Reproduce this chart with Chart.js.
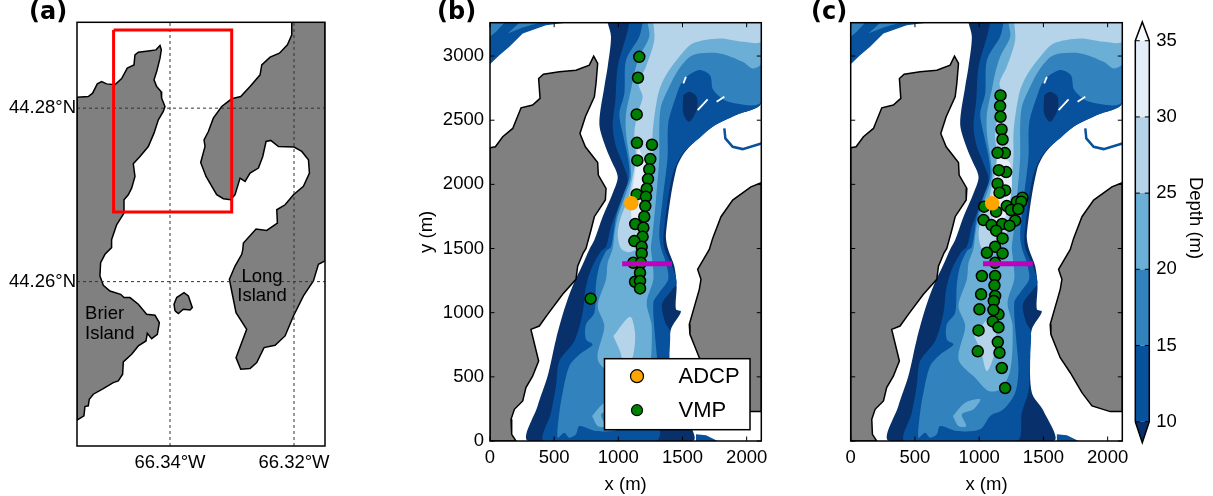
<!DOCTYPE html>
<html>
<head>
<meta charset="utf-8">
<title>Depth maps</title>
<script src="https://cdn.jsdelivr.net/npm/chart.js@4"></script>
<style>
html,body{margin:0;padding:0;background:#fff;width:1213px;height:496px;overflow:hidden}
canvas{position:absolute;top:0}
</style>
</head>
<body>
<canvas id="panelA"></canvas>
<canvas id="panelB"></canvas>
<canvas id="panelC"></canvas>
<canvas id="colorbar"></canvas>
<script>
/* MAP DATA (lon, lat) */

const mapLonTicks = [-66.34,-66.32];
const mapLatTicks = [44.26,44.28];

const brierCoast = [[-66.355,44.28127],[-66.35318,44.28134],[-66.35248,44.28173],[-66.35173,44.2828],[-66.35103,44.28307],[-66.35022,44.2828],[-66.34888,44.28269],[-66.3478,44.28342],[-66.34689,44.28461],[-66.34581,44.28499],[-66.34565,44.28614],[-66.34511,44.28645],[-66.3435,44.2866],[-66.34226,44.28672],[-66.34161,44.28722],[-66.3414,44.28672],[-66.34161,44.28576],[-66.34215,44.28422],[-66.34258,44.28326],[-66.34215,44.2825],[-66.34145,44.28192],[-66.34135,44.28115],[-66.34081,44.28019],[-66.34108,44.27962],[-66.34188,44.27866],[-66.34258,44.27712],[-66.3435,44.27558],[-66.34484,44.27443],[-66.34592,44.27359],[-66.34565,44.27213],[-66.34619,44.27078],[-66.34673,44.27002],[-66.34742,44.26944],[-66.34742,44.2679],[-66.34861,44.26656],[-66.34942,44.26483],[-66.34942,44.26392],[-66.35049,44.26315],[-66.35119,44.26219],[-66.3513,44.26065],[-66.35076,44.25958],[-66.34968,44.25892],[-66.34796,44.25854],[-66.34742,44.25816],[-66.34646,44.25816],[-66.34511,44.25739],[-66.34377,44.25624],[-66.34242,44.25612],[-66.34172,44.25528],[-66.34204,44.25393],[-66.34296,44.25343],[-66.34366,44.25405],[-66.34387,44.25316],[-66.34511,44.25259],[-66.34619,44.25163],[-66.34753,44.25075],[-66.34764,44.24932],[-66.34834,44.24856],[-66.34915,44.24836],[-66.35076,44.24767],[-66.35237,44.24702],[-66.35302,44.24644],[-66.35318,44.24568],[-66.35372,44.2456],[-66.35388,44.24452],[-66.355,44.24403]];

const longCoast = [[-66.32036,44.2899],[-66.32036,44.28845],[-66.32106,44.2873],[-66.32235,44.28634],[-66.32386,44.28588],[-66.3252,44.28499],[-66.32547,44.28384],[-66.32709,44.2825],[-66.32859,44.28134],[-66.33005,44.28108],[-66.33166,44.28019],[-66.33301,44.27885],[-66.33381,44.27731],[-66.33451,44.27635],[-66.33435,44.27558],[-66.33505,44.27374],[-66.33419,44.27213],[-66.33247,44.27002],[-66.33139,44.26956],[-66.33021,44.26944],[-66.32951,44.27002],[-66.3287,44.27194],[-66.32789,44.27155],[-66.32709,44.27251],[-66.32574,44.27309],[-66.32504,44.27443],[-66.32451,44.27616],[-66.32375,44.27628],[-66.32251,44.27558],[-66.31999,44.27551],[-66.31875,44.27501],[-66.31767,44.27405],[-66.31751,44.27251],[-66.31848,44.27098],[-66.32009,44.27002],[-66.32144,44.26886],[-66.32278,44.26829],[-66.32268,44.26675],[-66.3244,44.26591],[-66.32612,44.26606],[-66.32816,44.26445],[-66.32827,44.26365],[-66.32843,44.26315],[-66.32951,44.2618],[-66.33042,44.26027],[-66.33005,44.25892],[-66.32935,44.25643],[-66.32763,44.25451],[-66.32843,44.25297],[-66.32935,44.25124],[-66.32859,44.2499],[-66.32709,44.24998],[-66.32601,44.25067],[-66.32483,44.2524],[-66.32305,44.25267],[-66.32144,44.25374],[-66.32009,44.25604],[-66.31848,44.25835],[-66.31687,44.26008],[-66.31606,44.262],[-66.315,44.26238],[-66.315,44.2899]];

const smallIsland = [[-66.33919,44.25662],[-66.33935,44.25739],[-66.33892,44.25816],[-66.33774,44.25873],[-66.33704,44.25835],[-66.3364,44.257],[-66.33677,44.25674],[-66.33785,44.25681],[-66.33865,44.25631]];

const studyBox = [[-66.3491,44.289],[-66.33005,44.289],[-66.33005,44.26804],[-66.3491,44.26804]];

const placeNames = ["Brier","Island","Long","Island"];
const placeLons = [-66.3537,-66.3537,-66.32516,-66.32516];
const placeLats = [44.25627,44.25397,44.26055,44.25835];
const placeAligns = ["left","left","center","center"];

/* BATHYMETRY DATA (x, y in m) */

const xTicks = [0,500,1000,1500,2000];
const yTicks = [0,500,1000,1500,2000,2500,3000];

const westLand = [[0,2285],[42,2293],[99,2371],[177,2436],[242,2597],[332,2618],[390,2670],[379,2825],[416,2859],[540,2877],[670,2890],[774,2929],[808,3000],[839,2942],[826,2787],[813,2683],[743,2527],[701,2397],[743,2293],[839,2171],[844,2072],[904,1968],[899,1878],[813,1748],[787,1644],[748,1501],[727,1467],[683,1363],[670,1260],[566,1143],[449,987],[384,896],[319,870],[379,623],[332,506],[280,416],[255,312],[190,247],[164,169],[169,52],[203,0],[0,0]];

const eastLand = [[2114,2013],[2033,1981],[1891,1878],[1800,1748],[1735,1579],[1709,1493],[1618,1337],[1644,1260],[1631,1182],[1553,909],[1558,831],[1631,649],[1709,532],[1800,377],[1878,273],[2020,229],[2114,229]];

const depthUnder10 = [[917,3260],[943,3150],[917,2916],[891,2761],[852,2475],[891,2319],[943,2189],[995,2059],[956,1930],[878,1748],[813,1566],[774,1493],[722,1376],[644,1208],[579,1026],[514,792],[449,506],[371,273],[301,0],[1579,0],[1501,234],[1410,377],[1397,662],[1410,870],[1488,1008],[1449,1026],[1454,1208],[1436,1363],[1384,1506],[1371,1618],[1449,2111],[1532,2267],[1735,2449],[1917,2540],[2114,2636],[2114,3260]];

const depthOver10 = [[1086,3260],[1060,3150],[995,2916],[977,2657],[956,2449],[982,2293],[1034,2163],[1073,2033],[1021,1878],[943,1670],[904,1514],[865,1480],[787,1337],[743,1182],[722,1000],[657,779],[540,623],[514,429],[475,221],[423,0],[1293,0],[1332,221],[1384,390],[1397,662],[1402,857],[1366,922],[1340,1065],[1410,1169],[1454,1234],[1418,1363],[1358,1506],[1353,1618],[1418,2059],[1501,2241],[1644,2371],[1735,2449],[1917,2540],[2114,2636],[2114,3260]];

const depthOver15 = [[1189,3260],[1163,3150],[1060,2968],[1047,2709],[1008,2553],[1034,2397],[1073,2215],[1086,2059],[1034,1904],[982,1748],[943,1514],[904,1480],[852,1363],[826,1221],[813,1000],[748,909],[748,792],[800,753],[696,675],[618,584],[566,377],[540,221],[527,26],[579,65],[618,26],[670,52],[696,117],[826,78],[1008,91],[1086,195],[1189,247],[1280,377],[1306,558],[1293,740],[1273,1078],[1319,1156],[1389,1260],[1371,1389],[1332,1506],[1319,1618],[1345,1878],[1384,2215],[1389,2475],[1449,2683],[1506,2812],[1623,2890],[1714,2851],[1740,2735],[1857,2644],[2114,2644],[2114,3260]];

const depthOver20 = [[1228,3260],[1241,3150],[1163,2994],[1124,2864],[1098,2735],[1060,2553],[1060,2397],[1086,2215],[1099,2059],[1060,1930],[995,1748],[970,1618],[956,1501],[917,1389],[904,1260],[839,1052],[891,896],[839,636],[969,493],[1073,390],[1163,403],[1241,545],[1260,896],[1221,1078],[1273,1260],[1267,1389],[1254,1506],[1267,1618],[1293,1878],[1319,2215],[1319,2449],[1332,2605],[1397,2761],[1475,2903],[1579,3007],[1787,3020],[1969,2955],[2046,2903],[2114,2942],[2114,3260]];

const depthOver25 = [[1273,3260],[1280,3124],[1215,2916],[1158,2787],[1189,2683],[1150,2553],[1124,2397],[1137,2215],[1111,2059],[1073,1878],[1021,1748],[995,1618],[1021,1501],[1086,1472],[1163,1514],[1215,1618],[1241,1878],[1267,2215],[1267,2397],[1288,2579],[1319,2735],[1371,2851],[1475,2994],[1579,3098],[1787,3137],[1969,3111],[2114,3111],[2114,3260]];

const depthOver30 = [[1158,2293],[1189,2215],[1241,2163],[1254,1981],[1215,1774],[1163,1670],[1111,1696],[1099,1878],[1124,2059],[1143,2215]];

const deepPatchSouth = [[961,818],[1091,969],[1130,844],[1117,675],[1060,545],[1013,700]];
const midPatchSouth = [[795,195],[891,299],[1008,325],[956,247],[865,208],[899,117],[839,117]];
const shoalHole = [[1506,2696],[1553,2722],[1610,2683],[1610,2579],[1553,2488],[1506,2553]];

const bayNorthWest = [[0,2937],[73,3007],[151,3072],[255,3176],[436,3241],[592,3260],[0,3260]];
const bayCornerA = [[0,3150],[47,3189],[112,3260],[0,3260]];
const bayCornerB = [[138,3176],[255,3223],[384,3260],[229,3260]];
const bayEastRim = [[1826,2436],[1834,2358],[1891,2293],[1969,2275],[2114,2319]];
const baySouthEast = [[1605,52],[1683,44],[1774,0],[1605,0]];

const specks = [
[[1618,2579],[1696,2662]],
[[1766,2644],[1826,2683]],
[[1506,2787],[1527,2838]]
];

const transect = [[1030,1382],[1418,1382]];

const adcpPoint = [[1101,1852]];

const vmpCastsB = [[1163,2994],[1153,2831],[1143,2545],[1145,2324],[1262,2309],[1148,2187],[1249,2197],[1241,2117],[1231,2041],[1221,1966],[1143,1922],[1215,1904],[1210,1831],[1202,1748],[1132,1691],[1195,1662],[1189,1592],[1125,1558],[1182,1514],[1182,1462],[1117,1389],[1176,1389],[1169,1311],[1130,1241],[1169,1247],[1169,1189],[784,1109]];

const vmpCastsC = [[1166,2693],[1163,2610],[1166,2527],[1174,2428],[1182,2350],[1200,2244],[1143,2246],[1210,2096],[1153,2111],[1202,1953],[1143,2005],[1158,1935],[1337,1896],[1293,1865],[1327,1865],[1039,1826],[1215,1831],[1247,1800],[1304,1808],[1132,1787],[1034,1722],[1280,1717],[1096,1683],[1179,1691],[1236,1678],[1132,1639],[1182,1579],[1124,1514],[1060,1467],[1182,1462],[1124,1389],[1021,1286],[1124,1286],[1119,1213],[1015,1143],[1124,1130],[1114,1091],[1002,1026],[1150,987],[1111,1021],[1106,932],[1150,886],[995,862],[1145,771],[989,699],[1158,688],[1176,569],[1202,413]];

const legendNames = ["ADCP","VMP"];

/* COLOURBAR DATA */

const depthLevels = [10,15,20,25,30,35];
const depthLow = 8.62;
const depthHigh = 36.23;

/* COLOURS */

const navy = "#08306b";
const blue10 = "#08519c";
const blue15 = "#3182bd";
const blue20 = "#6baed6";
const blue25 = "#b5d3e9";
const blue30 = "#e3eef9";
const land = "#808080";
const levelColours = [blue10,blue15,blue20,blue25,blue30];

Chart.defaults.font.family = "'Liberation Sans', Arial, sans-serif";
Chart.defaults.font.size = 18.5;
Chart.defaults.color = "#000";
Chart.defaults.animation = false;

/* HELPERS */

function pts(list){
return list.map(p=>({x:p[0],y:p[1]}));
}

function closed(list){
return pts(list.concat([list[0]]));
}

function shape(list,colour,edge,width){
return {
data:closed(list),
showLine:true,
pointRadius:0,
fill:"shape",
backgroundColor:colour,
borderColor:edge||colour,
borderWidth:edge?(width||1.5):0,
borderJoinStyle:"miter"
};
}

/* depth contours are smooth in the original, coast lines are not */
function contour(list,colour){
return Object.assign(shape(list,colour),{tension:0.3});
}

function path(data,colour,width,dash){
return {
data:data,
showLine:true,
pointRadius:0,
fill:false,
borderColor:colour,
borderWidth:width,
borderDash:dash||[],
borderCapStyle:"butt",
borderJoinStyle:"miter"
};
}

function dots(list,colour,edge,radius){
return {
data:pts(list),
showLine:false,
pointRadius:radius,
pointBackgroundColor:colour,
pointBorderColor:edge,
pointBorderWidth:1.5
};
}

/* first dataset is drawn last in Chart.js, so number them by paint order */
function painted(list){
return list.map((d,i)=>Object.assign(d,{order:list.length-i}));
}

function fixedTicks(values){
return s=>{ s.ticks = values.map(v=>({value:v})); };
}

/* PLUGINS */

const frame = {
id:"frame",
afterDatasetsDraw(chart){
const a = chart.chartArea;
const c = chart.ctx;
c.save();
c.strokeStyle = "#000";
c.lineWidth = 1.5;
c.strokeRect(a.left,a.top,a.width,a.height);
c.restore();
}
};

const innerTicks = {
id:"innerTicks",
afterDatasetsDraw(chart){
const a = chart.chartArea;
const c = chart.ctx;
const len = 4.5;
c.save();
c.strokeStyle = "#000";
c.lineWidth = 1;
c.beginPath();
if(chart.scales.x.options.display){
chart.scales.x.ticks.forEach(t=>{
const px = chart.scales.x.getPixelForValue(t.value);
c.moveTo(px,a.bottom); c.lineTo(px,a.bottom-len);
c.moveTo(px,a.top); c.lineTo(px,a.top+len);
});
}
chart.scales.y.ticks.forEach(t=>{
const py = chart.scales.y.getPixelForValue(t.value);
c.moveTo(a.left,py); c.lineTo(a.left+len,py);
c.moveTo(a.right,py); c.lineTo(a.right-len,py);
});
c.stroke();
c.restore();
}
};

function panelLetter(text,x){
return {
id:"letter",
afterDraw(chart){
const c = chart.ctx;
c.save();
c.font = "bold 24px 'DejaVu Sans'";
c.fillStyle = "#000";
c.textBaseline = "alphabetic";
c.fillText(text,x,19);
c.restore();
}
};
}

const placeLabels = {
id:"placeLabels",
afterDatasetsDraw(chart){
const c = chart.ctx;
c.save();
c.fillStyle = "#000";
c.font = "18.5px 'Liberation Sans'";
c.textBaseline = "middle";
placeNames.forEach((name,i)=>{
c.textAlign = placeAligns[i];
c.fillText(name,chart.scales.x.getPixelForValue(placeLons[i]),chart.scales.y.getPixelForValue(placeLats[i]));
});
c.restore();
}
};

const boxLegend = {
id:"boxLegend",
afterDatasetsDraw(chart){
const a = chart.chartArea;
const c = chart.ctx;
const left = a.left+114.5, top = a.top+336, w = 145.5, h = 71;
const markerX = left+32.5;
const rows = [top+17.5,top+51.5];
const fills = ["#ffa500","#008000"];
const radius = [6.5,5.5];
c.save();
c.fillStyle = "#fff";
c.strokeStyle = "#000";
c.lineWidth = 1.5;
c.fillRect(left,top,w,h);
c.strokeRect(left,top,w,h);
legendNames.forEach((name,i)=>{
c.beginPath();
c.arc(markerX,rows[i],radius[i],0,Math.PI*2);
c.fillStyle = fills[i];
c.fill();
c.lineWidth = 1.2;
c.stroke();
c.fillStyle = "#000";
c.font = "22px 'Liberation Sans'";
c.textBaseline = "middle";
c.fillText(name,left+74,rows[i]+1);
});
c.restore();
}
};

const depthLabel = {
id:"depthLabel",
afterDraw(chart){
const c = chart.ctx;
c.save();
c.translate(1195-chart.canvas.offsetLeft,218);
c.rotate(Math.PI/2);
c.font = "18.5px 'Liberation Sans'";
c.fillStyle = "#000";
c.textAlign = "center";
c.textBaseline = "middle";
c.fillText("Depth (m)",0,0);
c.restore();
}
};

/* CHART SETUP */

function place(id,left,width){
const el = document.getElementById(id);
el.style.left = left+"px";
el.width = width;
el.height = 496;
return el;
}

/* PANEL A */

const graticule = [];
mapLonTicks.forEach(v=>graticule.push(path([{x:v,y:44.24105},{x:v,y:44.2899}],"#333",1,[3,3])));
mapLatTicks.forEach(v=>graticule.push(path([{x:-66.355,y:v},{x:-66.315,y:v}],"#333",1,[3,3])));

new Chart(place("panelA",0,345),{
type:"scatter",
data:{datasets:painted([
shape(brierCoast,land,"#000"),
shape(longCoast,land,"#000"),
shape(smallIsland,land,"#000"),
...graticule,
shape(studyBox,"transparent","#ff0000",3)
])},
options:{
responsive:false,
events:[],
layout:{padding:{top:22.3,right:20}},
plugins:{legend:{display:false},tooltip:{enabled:false}},
scales:{
x:{
min:-66.355,max:-66.315,
grid:{display:false,drawTicks:false},
border:{display:false},
afterBuildTicks:fixedTicks(mapLonTicks),
afterFit:s=>{s.height=50;},
ticks:{padding:6,maxRotation:0,autoSkip:false,callback:v=>Math.abs(v).toFixed(2)+"°W"}
},
y:{
min:44.24105,max:44.2899,
grid:{display:false,drawTicks:false},
border:{display:false},
afterBuildTicks:fixedTicks(mapLatTicks),
afterFit:s=>{s.width=77;},
ticks:{padding:1,autoSkip:false,callback:v=>v.toFixed(2)+"°N"}
}
}
},
plugins:[frame,placeLabels,panelLetter("(a)",29)]
});

/* PANELS B AND C */

function bathymetry(casts){
return painted([
contour(depthUnder10,navy),
shape(bayNorthWest,blue10),
shape(bayCornerA,blue15),
shape(bayCornerB,blue15),
shape(baySouthEast,blue10),
path(pts(bayEastRim),blue10,2.5),
contour(depthOver10,blue10),
contour(shoalHole,navy),
contour(depthOver15,blue15),
contour(depthOver20,blue20),
contour(midPatchSouth,blue20),
contour(depthOver25,blue25),
contour(deepPatchSouth,blue25),
contour(depthOver30,blue30),
...specks.map(s=>path(pts(s),"#fff",1.8)),
shape(westLand,land,"#000"),
shape(eastLand,land,"#000"),
dots(casts,"#008000","#000",5.5),
dots(adcpPoint,"#ffa500","#ffa500",6.5),
path(pts(transect),"#bf00bf",5)
]);
}

function depthScales(yWidth,showY){
return {
x:{
min:0,max:2114,
grid:{display:false,drawTicks:false},
border:{display:false},
afterBuildTicks:fixedTicks(xTicks),
afterFit:s=>{s.height=55;},
ticks:{padding:6,maxRotation:0,autoSkip:false,callback:v=>String(v)},
title:{display:true,text:"x (m)",padding:{top:0,bottom:0}}
},
y:{
min:0,max:3260,
grid:{display:false,drawTicks:false},
border:{display:false},
afterBuildTicks:fixedTicks(yTicks),
afterFit:s=>{s.width=yWidth;},
ticks:{display:showY,padding:6,autoSkip:false,callback:v=>String(v)},
title:{display:showY,text:"y (m)",padding:{top:0,bottom:0}}
}
};
}

new Chart(place("panelB",416,376),{
type:"scatter",
data:{datasets:bathymetry(vmpCastsB)},
options:{
responsive:false,
events:[],
layout:{padding:{top:22.7,right:30.7}},
plugins:{legend:{display:false},tooltip:{enabled:false}},
scales:depthScales(74,true)
},
plugins:[frame,innerTicks,boxLegend,panelLetter("(b)",21)]
});

new Chart(place("panelC",805,330),{
type:"scatter",
data:{datasets:bathymetry(vmpCastsC)},
options:{
responsive:false,
events:[],
layout:{padding:{top:22.7,right:12.7}},
plugins:{legend:{display:false},tooltip:{enabled:false}},
scales:depthScales(45.7,false)
},
plugins:[frame,innerTicks,panelLetter("(c)",6)]
});

/* COLOURBAR */

const barBands = levelColours.map((col,i)=>shape([[0,depthLevels[i]],[1,depthLevels[i]],[1,depthLevels[i+1]],[0,depthLevels[i+1]]],col));

new Chart(place("colorbar",1130,83),{
type:"scatter",
data:{datasets:painted([
...barBands,
shape([[0,10],[0.5,depthLow],[1,10]],navy),
shape([[0,35],[0.5,depthHigh],[1,35]],"#f7fbff"),
Object.assign(shape([[0,10],[0.5,depthLow],[1,10],[1,35],[0.5,depthHigh],[0,35]],"transparent","#000"),{clip:false})
])},
options:{
responsive:false,
events:[],
layout:{padding:{top:22,bottom:53.3,left:5.3}},
plugins:{legend:{display:false},tooltip:{enabled:false}},
scales:{
x:{min:0,max:1,display:false},
y:{
position:"right",
min:depthLow,max:depthHigh,
grid:{display:false,drawTicks:false},
border:{display:false},
afterBuildTicks:fixedTicks(depthLevels),
afterFit:s=>{s.width=63.7;},
ticks:{padding:7,autoSkip:false,callback:v=>String(v)}
}
}
},
plugins:[innerTicks,depthLabel]
});
</script>
</body>
</html>
